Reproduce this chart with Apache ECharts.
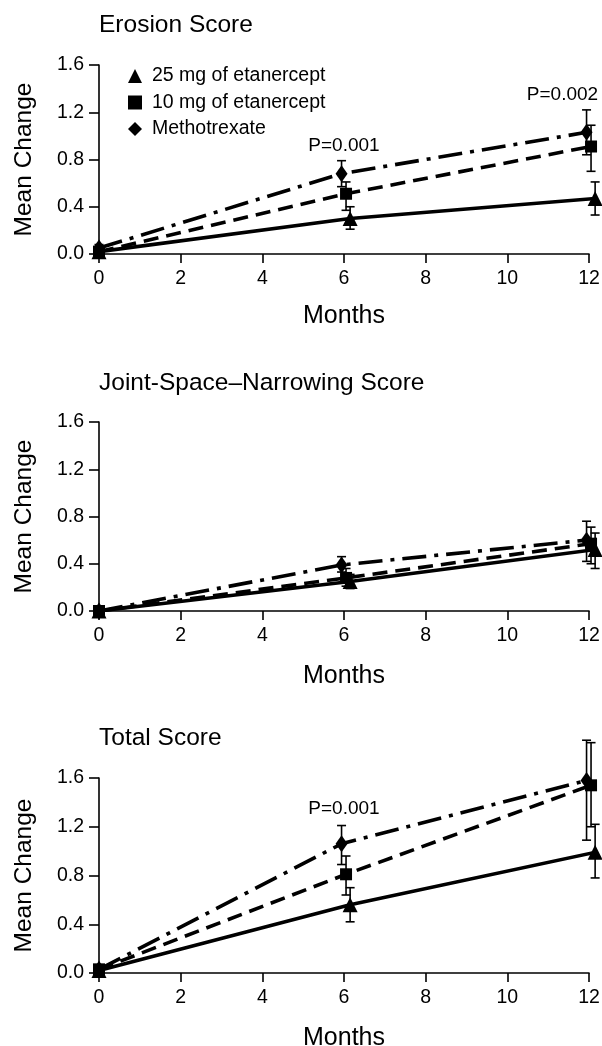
<!DOCTYPE html>
<html>
<head>
<meta charset="utf-8">
<script src="https://cdn.jsdelivr.net/npm/echarts@6/dist/echarts.min.js"></script>
<style>
html,body{margin:0;padding:0;background:#fff;}
#chart{width:602px;height:1046px;}
</style>
</head>
<body>
<div id="chart"></div>
<script>
// ---- data ----
const months = [0, 6, 12];
const seriesNames = ['25 mg of etanercept', '10 mg of etanercept', 'Methotrexate'];
const panelTitles = ['Erosion Score', 'Joint-Space\u2013Narrowing Score', 'Total Score'];
const yTicks = [0, 0.4, 0.8, 1.2, 1.6];
const xTicks = [0, 2, 4, 6, 8, 10, 12];

const erosion25 = [0.02, 0.30, 0.47];
const erosion10 = [0.02, 0.51, 0.91];
const erosionMtx = [0.05, 0.68, 1.03];
const erosion25Low = [0.02, 0.21, 0.33];
const erosion25High = [0.02, 0.40, 0.61];
const erosion10Low = [0.02, 0.37, 0.70];
const erosion10High = [0.02, 0.61, 1.09];
const erosionMtxLow = [0.05, 0.57, 0.84];
const erosionMtxHigh = [0.08, 0.79, 1.22];

const jsn25 = [0.00, 0.25, 0.52];
const jsn10 = [0.00, 0.28, 0.57];
const jsnMtx = [0.00, 0.39, 0.60];
const jsn25Low = [0.00, 0.19, 0.36];
const jsn25High = [0.00, 0.31, 0.66];
const jsn10Low = [0.00, 0.21, 0.40];
const jsn10High = [0.00, 0.36, 0.71];
const jsnMtxLow = [0.00, 0.33, 0.42];
const jsnMtxHigh = [0.00, 0.46, 0.76];

const total25 = [0.02, 0.56, 0.99];
const total10 = [0.03, 0.81, 1.54];
const totalMtx = [0.03, 1.06, 1.58];
const total25Low = [0.02, 0.42, 0.78];
const total25High = [0.02, 0.70, 1.22];
const total10Low = [0.03, 0.64, 1.20];
const total10High = [0.03, 0.96, 1.89];
const totalMtxLow = [0.03, 0.89, 1.09];
const totalMtxHigh = [0.06, 1.21, 1.91];

const pValues = [
  {panel: 0, text: 'P=0.001', month: 6, value: 0.92},
  {panel: 0, text: 'P=0.002', month: 11.35, value: 1.35},
  {panel: 2, text: 'P=0.001', month: 6, value: 1.35}
];

// ---- presentation ----
const FONT = '"Liberation Sans", Arial, Helvetica, sans-serif';
const jitter = [0.15, 0.05, -0.06];
const symbols = ['triangle', 'rect', 'diamond'];
const symbolSizes = [15, 12, [12, 17]];
const lineTypes = ['solid', [15, 8], [24, 8, 4, 8]];
const grids = [
  {left: 99, right: 13, top: 65, height: 189, outerBoundsMode: 'none', containLabel: false},
  {left: 99, right: 13, top: 422, height: 189, outerBoundsMode: 'none', containLabel: false},
  {left: 99, right: 13, top: 778, height: 195, outerBoundsMode: 'none', containLabel: false}
];
const titleTops = [8, 366, 721];
const monthsGaps = [50, 53, 53];

const panels = [
  {vals: [erosion25, erosion10, erosionMtx], lows: [erosion25Low, erosion10Low, erosionMtxLow], highs: [erosion25High, erosion10High, erosionMtxHigh]},
  {vals: [jsn25, jsn10, jsnMtx], lows: [jsn25Low, jsn10Low, jsnMtxLow], highs: [jsn25High, jsn10High, jsnMtxHigh]},
  {vals: [total25, total10, totalMtx], lows: [total25Low, total10Low, totalMtxLow], highs: [total25High, total10High, totalMtxHigh]}
];

function xPos(m, s) { return m > 0 ? m + jitter[s] : m; }

const xAxes = [], yAxes = [], series = [];
grids.forEach((g, gi) => {
  xAxes.push({
    gridIndex: gi, type: 'value', min: 0, max: 12, interval: 2,
    name: 'Months', nameLocation: 'middle', nameGap: monthsGaps[gi],
    nameTextStyle: {fontFamily: FONT, fontSize: 25, color: '#000'},
    axisLine: {show: true, onZero: false, lineStyle: {color: '#000', width: 1.6}},
    axisTick: {show: true, length: 9, lineStyle: {color: '#000', width: 1.6}},
    axisLabel: {fontFamily: FONT, fontSize: 19.5, color: '#000', margin: 15},
    splitLine: {show: false}
  });
  yAxes.push({
    gridIndex: gi, type: 'value', min: 0, max: 1.6, interval: 0.4,
    name: 'Mean Change', nameLocation: 'middle', nameGap: 62,
    nameTextStyle: {fontFamily: FONT, fontSize: 24.5, color: '#000'},
    axisLine: {show: true, onZero: false, lineStyle: {color: '#000', width: 1.6}},
    axisTick: {show: true, length: 10, lineStyle: {color: '#000', width: 1.6}},
    axisLabel: {fontFamily: FONT, fontSize: 19.5, color: '#000', margin: 15,
      formatter: v => v.toFixed(1)},
    splitLine: {show: false}
  });
  const p = panels[gi];
  for (let s = 0; s < 3; s++) {
    series.push({
      type: 'custom', name: seriesNames[s] + ' err', xAxisIndex: gi, yAxisIndex: gi,
      clip: false, silent: true, z: 3,
      data: months.map((m, i) => [xPos(m, s), p.lows[s][i], p.highs[s][i]]),
      renderItem: function (params, api) {
        const x = api.value(0);
        const lo = api.coord([x, api.value(1)]);
        const hi = api.coord([x, api.value(2)]);
        const w = 4.5;
        const st = {stroke: '#000', lineWidth: 1.6};
        return {type: 'group', children: [
          {type: 'line', shape: {x1: lo[0], y1: lo[1], x2: hi[0], y2: hi[1]}, style: st},
          {type: 'line', shape: {x1: lo[0] - w, y1: lo[1], x2: lo[0] + w, y2: lo[1]}, style: st},
          {type: 'line', shape: {x1: hi[0] - w, y1: hi[1], x2: hi[0] + w, y2: hi[1]}, style: st}
        ]};
      }
    });
    const line = {
      type: 'line', name: seriesNames[s], xAxisIndex: gi, yAxisIndex: gi,
      data: months.map((m, i) => [xPos(m, s), p.vals[s][i]]),
      symbol: symbols[s], symbolSize: symbolSizes[s], showSymbol: true,
      clip: false,
      itemStyle: {color: '#000'},
      lineStyle: {color: '#000', width: 3.6, type: lineTypes[s]},
      z: 4, animation: false
    };
    const notes = pValues.filter(q => q.panel === gi);
    if (s === 2 && notes.length) {
      line.markPoint = {
        symbol: 'circle', symbolSize: 0, silent: true,
        label: {show: true, position: 'inside', fontFamily: FONT, fontSize: 19, color: '#000',
          formatter: d => d.name},
        data: notes.map(q => ({name: q.text, coord: [q.month, q.value]}))
      };
    }
    series.push(line);
  }
});

const chart = echarts.init(document.getElementById('chart'), null, {renderer: 'canvas'});
chart.setOption({
  backgroundColor: '#fff',
  animation: false,
  title: panelTitles.map((t, i) => ({
    text: t, left: 94, top: titleTops[i],
    textStyle: {fontFamily: FONT, fontSize: 24.5, fontWeight: 'normal', color: '#000'}
  })),
  legend: {
    orient: 'vertical', left: 123, top: 61, itemGap: 6.5,
    itemWidth: 14, itemHeight: 14, selectedMode: false,
    textStyle: {fontFamily: FONT, fontSize: 19.5, lineHeight: 14, color: '#000', padding: [0, 0, 0, 5]},
    data: seriesNames.map((n, i) => ({name: n, icon: symbols[i], itemStyle: {color: '#000'}}))
  },
  grid: grids,
  xAxis: xAxes,
  yAxis: yAxes,
  series: series
});
</script>
</body>
</html>
